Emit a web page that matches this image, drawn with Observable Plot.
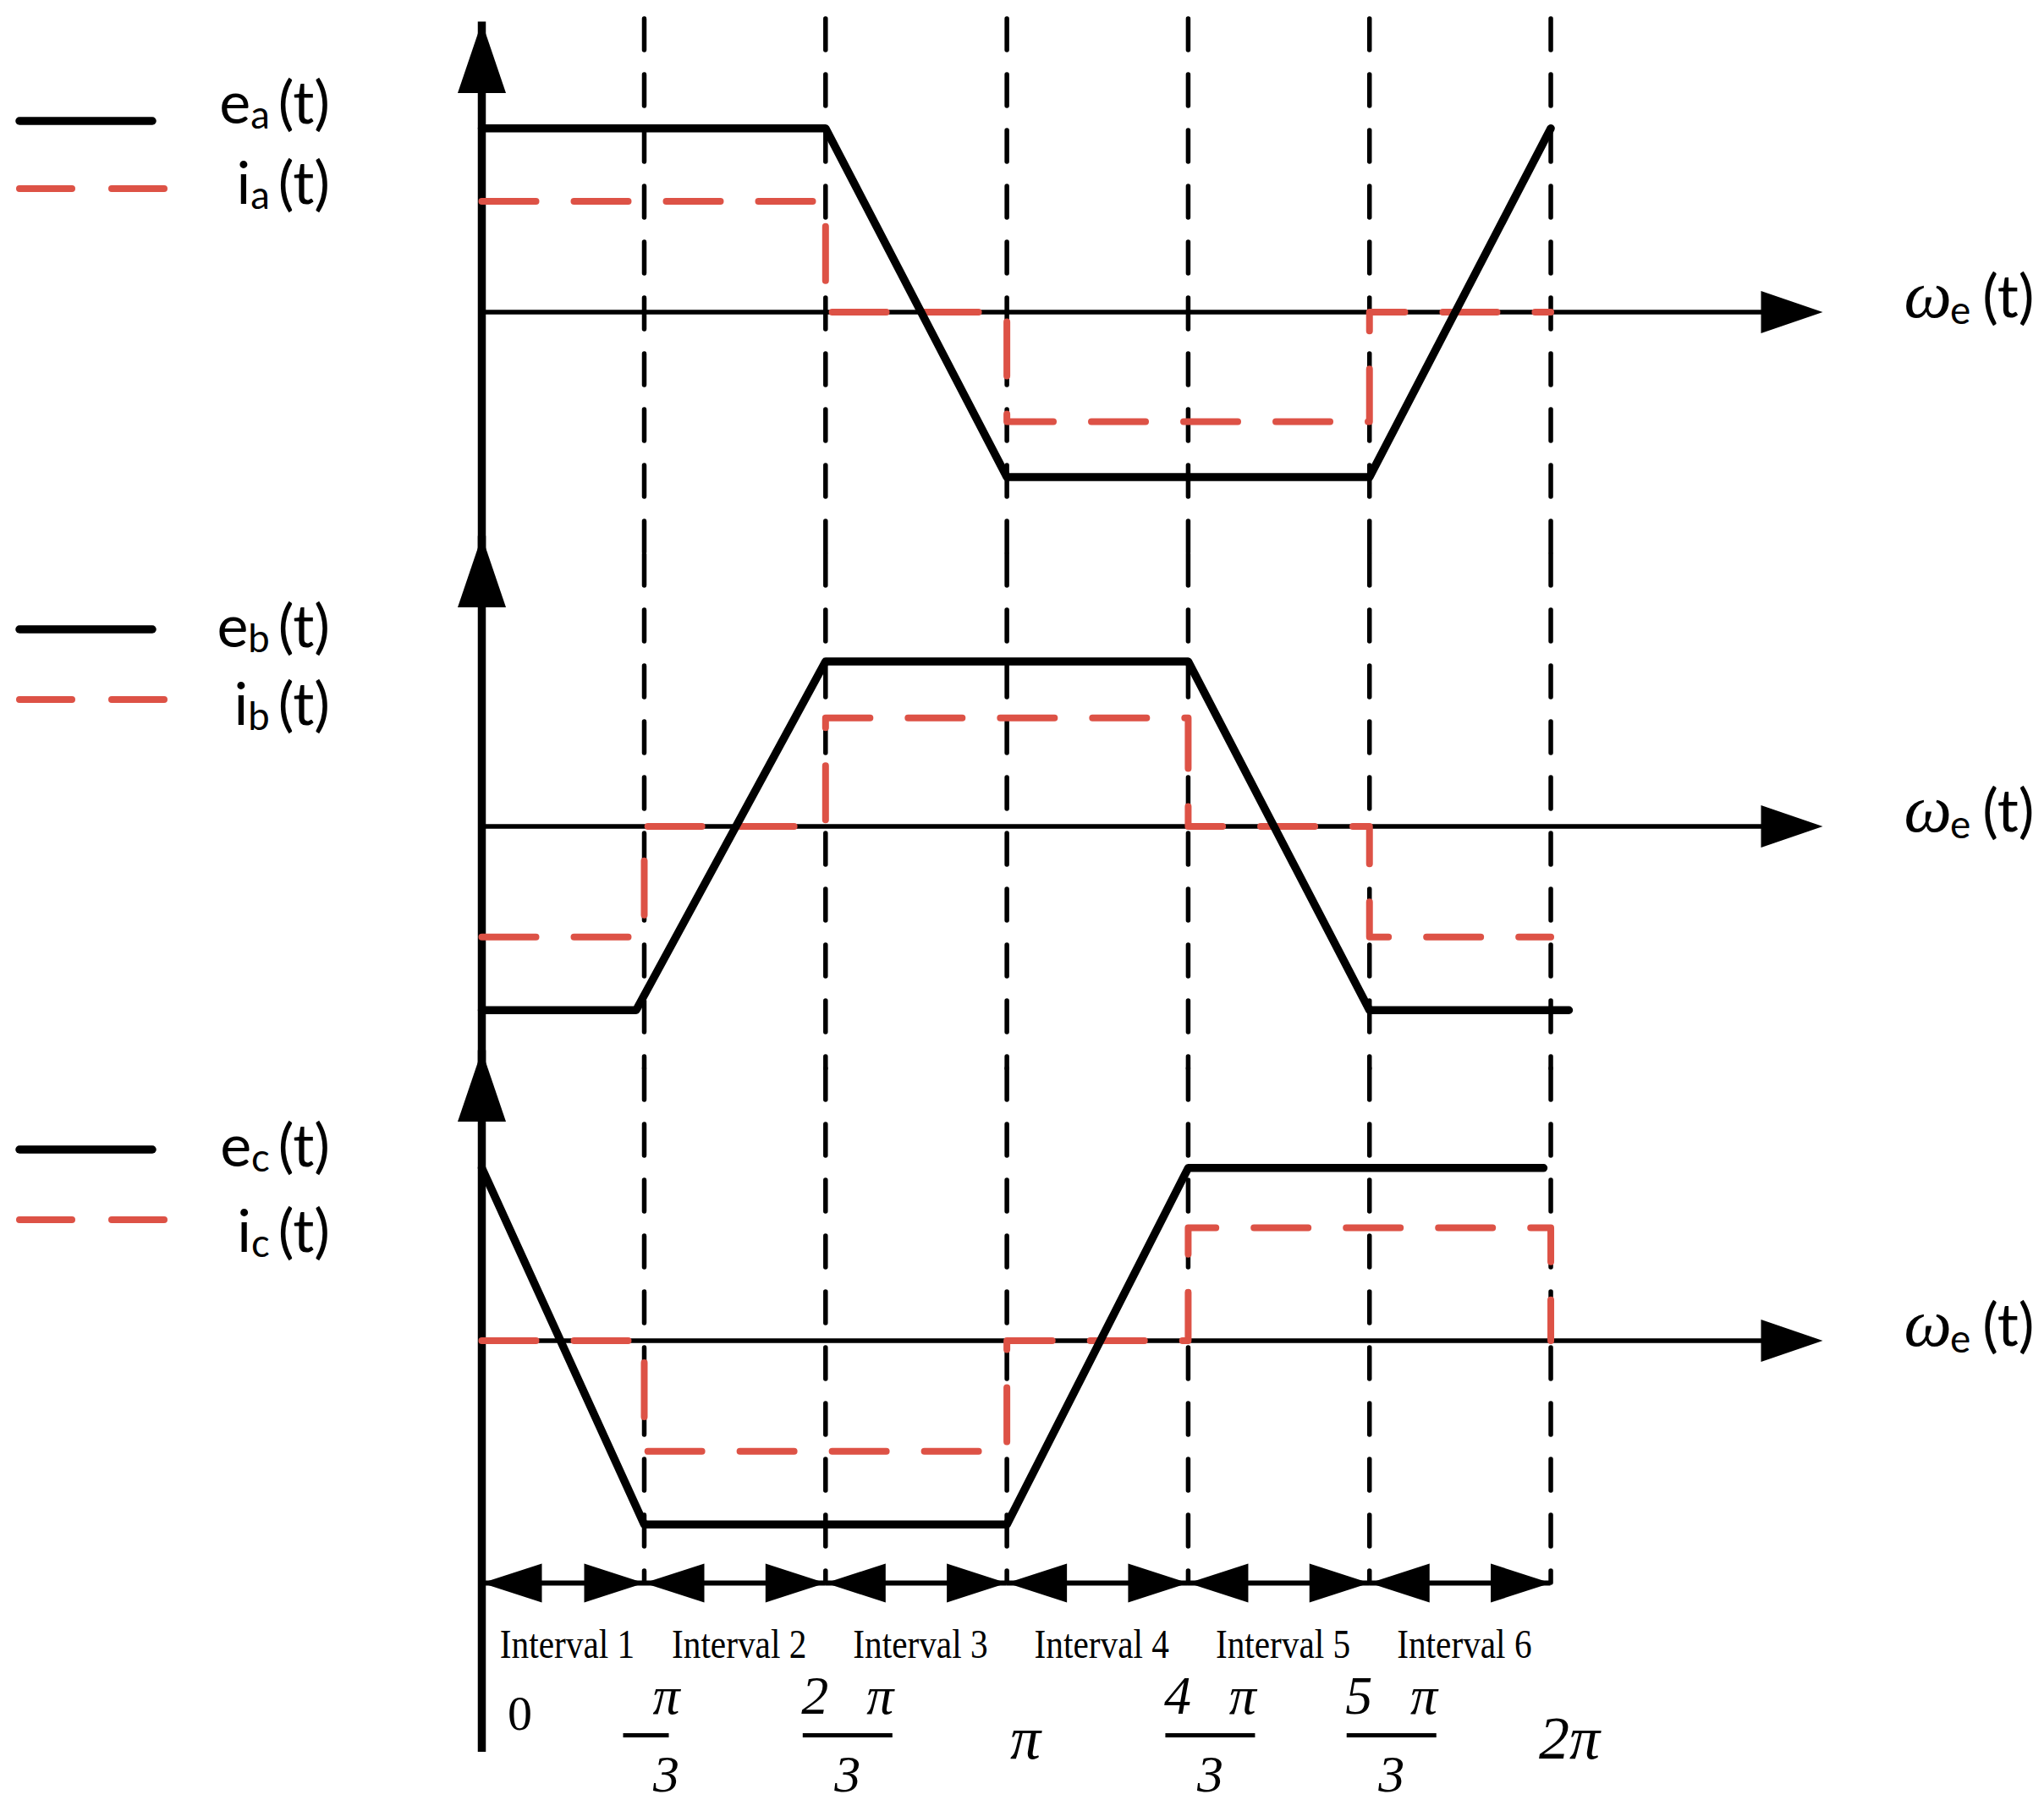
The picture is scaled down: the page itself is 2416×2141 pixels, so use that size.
<!DOCTYPE html>
<html>
<head>
<meta charset="utf-8">
<script src="https://cdn.jsdelivr.net/npm/d3@7"></script>
<script src="https://cdn.jsdelivr.net/npm/@observablehq/plot@0.6"></script>
<style>
  html, body { margin: 0; padding: 0; background: #fff; }
  #wrap { position: relative; width: 2416px; height: 2141px; overflow: hidden; background: #fff; }
  #chart { position: absolute; left: 0; top: 0; }
  .sw { position: absolute; left: 0; overflow: visible; }
  .lab { position: absolute; left: 0; width: 390px; text-align: right; font-family: Lato, "Noto Sans", sans-serif;
         font-size: 70px; line-height: 1; transform: translateY(-50%); white-space: nowrap; color: #000; }
  .lab sub { font-size: 0.65em; vertical-align: -0.13em; line-height: 0; margin-right: 0.22em; }
</style>
</head>
<body>
<div id="wrap"><div id="chart"></div></div>
<script>
// ---------------- data (x in units of π/3) ----------------
const phases = ["a", "b", "c"];
const tickValues = [0, 1, 2, 3, 4, 5, 6];
const originLabel = ["0", "", "", "", "", "", ""];
const tickNumerators = ["", "π", "2\u2002\u2009π", "", "4\u2002\u2009π", "5\u2002\u2009π", ""];
const tickDenominators = ["", "3", "3", "", "3", "3", ""];
const tickSingles = ["", "", "", "π", "", "", "2π"];
const intervalNames = ["Interval 1", "Interval 2", "Interval 3", "Interval 4", "Interval 5", "Interval 6"];
const intervalStart = [0, 1, 2, 3, 4, 5];
const intervalEnd = [1, 2, 3, 4, 5, 6];

// back-EMF e(t): breakpoints and levels
const eA_t = [0, 2, 3, 5, 6];
const eA_v = [1.66, 1.66, -1.49, -1.49, 1.66];
const eB_t = [0, 0.95, 2, 4, 5, 6.1];
const eB_v = [-1.66, -1.66, 1.49, 1.49, -1.66, -1.66];
const eC_t = [0, 1, 3, 4, 5.96];
const eC_v = [1.56, -1.66, -1.66, 1.56, 1.56];
// phase currents i(t): step breakpoints and levels
const iA_t = [0, 2, 3, 5, 6];
const iA_v = [1.0, 0, -0.99, 0, 0];
const iB_t = [0, 1, 2, 4, 5, 6];
const iB_v = [-1.0, 0, 0.98, 0, -1.0, -1.0];
const iC_t = [0, 1, 3, 4, 6];
const iC_v = [0, -1.0, 0, 1.02, 0];

// ---------------- tables ----------------
const toRows = (phase, ts, vs) => ts.map((t, k) => ({phase, t, v: vs[k]}));
const emfs = [...toRows("a", eA_t, eA_v), ...toRows("b", eB_t, eB_v), ...toRows("c", eC_t, eC_v)];
const currents = [...toRows("a", iA_t, iA_v), ...toRows("b", iB_t, iB_v), ...toRows("c", iC_t, iC_v)];
const intervals = intervalNames.map((name, k) => ({name, start: intervalStart[k], end: intervalEnd[k]}));
const ticks = tickValues.map((value, k) => ({
  value, origin: originLabel[k], num: tickNumerators[k], den: tickDenominators[k], single: tickSingles[k]
}));
const boundaryRows = phases.flatMap(phase => tickValues.slice(1).map(t => ({phase, t})));

// ---------------- scales / layout ----------------
const Y_MIN = -2.189, Y_MAX = 2.456;  // vertical extent of each panel
const X_END = 7.5;                    // end of the ωe(t) axis
const RED = "#dd5246";

const upHead    = {draw(c) { c.moveTo(0, 0); c.lineTo(28.5, 84); c.lineTo(-28.5, 84); c.closePath(); }};
const rightHead = {draw(c) { c.moveTo(0, 0); c.lineTo(-73, -25); c.lineTo(-73, 25); c.closePath(); }};
const leftTri   = {draw(c) { c.moveTo(0, 0); c.lineTo(71, -23); c.lineTo(71, 23); c.closePath(); }};
const rightTri  = {draw(c) { c.moveTo(0, 0); c.lineTo(-71, -23); c.lineTo(-71, 23); c.closePath(); }};
const shortBar  = {draw(c) { c.rect(-27, -2.6, 54, 5.2); }};
const longBar   = {draw(c) { c.rect(-53, -2.6, 106, 5.2); }};
const onlyC = () => "c";
const serif = "'Liberation Serif', 'Times New Roman', serif";
const dash = {stroke: "black", strokeWidth: 5.5, strokeDasharray: "37 29", strokeLinecap: "round"};

const chart = Plot.plot({
  width: 2416,
  height: 2141,
  marginTop: 46.5,
  marginBottom: 269,
  marginLeft: 569,
  marginRight: 262,
  x: {type: "linear", domain: [0, 1, X_END], range: [569, 761, 2154], axis: null},
  y: {domain: [Y_MIN, Y_MAX], axis: null},
  fy: {domain: phases, padding: 0, axis: null},
  style: {background: "white", overflow: "visible"},
  marks: [
    // dashed interval boundaries
    Plot.ruleX(boundaryRows.filter(d => d.phase !== "a"), {x: "t", fy: "phase", ...dash}),
    Plot.ruleX(boundaryRows.filter(d => d.phase === "a"), {x: "t", fy: "phase", insetTop: -25, ...dash}),
    // ωe(t) axes
    Plot.ruleY([0], {x1: 0, x2: X_END, insetRight: 60, stroke: "black", strokeWidth: 5.5}),
    // vertical axes
    Plot.ruleX(["a", "b"], {x: () => 0, fy: d => d, insetTop: -21.5, stroke: "black", strokeWidth: 9.5}),
    Plot.ruleX(["c"], {x: () => 0, fy: d => d, insetTop: -21.5, insetBottom: -200, stroke: "black", strokeWidth: 9.5}),
    // currents
    Plot.line(currents, {x: "t", y: "v", fy: "phase", curve: "step-after", stroke: RED, strokeWidth: 8,
      strokeDasharray: "64 45", strokeLinecap: "round"}),
    // back-EMF
    Plot.line(emfs, {x: "t", y: "v", fy: "phase", stroke: "black", strokeWidth: 9.5, strokeLinecap: "round"}),
    // arrow heads
    Plot.dot([0], {x: 0, y: Y_MAX, dy: -21.5, symbol: upHead, fill: "black"}),
    Plot.dot([0], {x: X_END, y: 0, symbol: rightHead, fill: "black"}),
    Plot.text([0], {x: X_END, y: 0, text: () => "ωe(t)", dx: 96, dy: -16, textAnchor: "start",
      fontSize: 70, fontFamily: "Lato", fill: "black", ariaDescription: "omega-label"}),
    // interval row
    Plot.ruleY(intervals, {y: () => Y_MIN, x1: "start", x2: "end", fy: onlyC, stroke: "black", strokeWidth: 6}),
    Plot.dot(intervals, {x: "start", y: () => Y_MIN, fy: onlyC, symbol: leftTri, fill: "black"}),
    Plot.dot(intervals, {x: "end", y: () => Y_MIN, fy: onlyC, symbol: rightTri, fill: "black"}),
    Plot.text(intervals, {x: d => (d.start + d.end) / 2, fy: onlyC, frameAnchor: "bottom", dy: 88, dx: 5,
      text: "name", fontFamily: serif, fontSize: 48, fill: "black", ariaDescription: "interval-labels"}),
    // angle labels
    Plot.text(ticks, {x: "value", fy: onlyC, frameAnchor: "bottom", dy: 173, dx: 45, text: "origin",
      fontFamily: serif, fontSize: 58, fill: "black"}),
    Plot.text(ticks, {x: "value", fy: onlyC, frameAnchor: "bottom", dy: 154, dx: 26, text: "num",
      fontFamily: serif, fontStyle: "italic", fontSize: 64, fill: "black"}),
    Plot.dot(ticks.filter(d => d.den && d.num.length === 1), {x: "value", fy: onlyC, frameAnchor: "bottom",
      dy: 180, dx: 2, symbol: shortBar, fill: "black"}),
    Plot.dot(ticks.filter(d => d.den && d.num.length > 1), {x: "value", fy: onlyC, frameAnchor: "bottom",
      dy: 180, dx: 26, symbol: longBar, fill: "black"}),
    Plot.text(ticks, {x: "value", fy: onlyC, frameAnchor: "bottom", dy: 246, dx: 26, text: "den",
      fontFamily: serif, fontStyle: "italic", fontSize: 62, fill: "black"}),
    Plot.text(ticks, {x: "value", fy: onlyC, frameAnchor: "bottom", dy: 207, dx: 22, text: "single",
      fontFamily: serif, fontStyle: "italic", fontSize: 72, fill: "black"})
  ]
});

document.getElementById("chart").appendChild(chart);

// ωe(t) labels: italic omega with subscript e
d3.select(chart).selectAll('g[aria-description="omega-label"] text').each(function () {
  const t = d3.select(this);
  t.text(null);
  t.append("tspan").attr("font-family", serif).attr("font-style", "italic").attr("font-size", 80).text("ω");
  t.append("tspan").attr("font-size", 46).attr("dy", 8).attr("dx", -2).text("e");
  t.append("tspan").attr("dy", -8).attr("dx", 14).text("(t)");
});
// condensed serif look for the interval names
d3.select(chart).selectAll('g[aria-description="interval-labels"] text').each(function () {
  const len = this.getComputedTextLength();
  if (len > 0) d3.select(this).attr("textLength", len * 0.86).attr("lengthAdjust", "spacingAndGlyphs");
});

// ---------------- legends (HTML, left of each panel) ----------------
const legendSolidY = [143, 744, 1359];
const legendDashY  = [223, 827, 1442];
const legendETextY = [124, 743, 1357];
const legendITextY = [219, 835, 1458];
const wrap = d3.select("#wrap");
phases.forEach((p, k) => {
  const s1 = wrap.append("svg").attr("class", "sw").attr("width", 210).attr("height", 20)
    .style("top", (legendSolidY[k] - 10) + "px");
  s1.append("line").attr("x1", 23).attr("x2", 180).attr("y1", 10).attr("y2", 10)
    .attr("stroke", "black").attr("stroke-width", 9.5).attr("stroke-linecap", "round");
  const s2 = wrap.append("svg").attr("class", "sw").attr("width", 210).attr("height", 20)
    .style("top", (legendDashY[k] - 10) + "px");
  s2.append("line").attr("x1", 23).attr("x2", 194).attr("y1", 10).attr("y2", 10)
    .attr("stroke", RED).attr("stroke-width", 8).attr("stroke-linecap", "round").attr("stroke-dasharray", "62 47");
  wrap.append("div").attr("class", "lab").style("top", (legendETextY[k] - 5) + "px").html(`e<sub>${p}</sub>(t)`);
  wrap.append("div").attr("class", "lab").style("top", (legendITextY[k] - 5) + "px").html(`i<sub>${p}</sub>(t)`);
});
</script>
</body>
</html>
